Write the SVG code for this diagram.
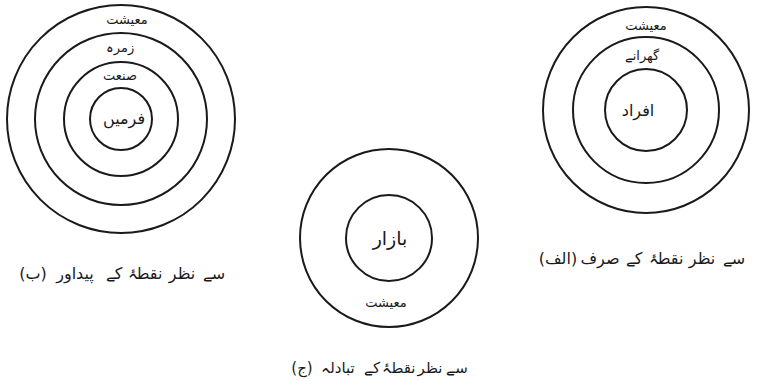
<svg xmlns="http://www.w3.org/2000/svg" width="757" height="387" viewBox="0 0 757 387">
<style>
.ring{fill:none;stroke:#1a1a1a;stroke-width:2}
.t{font-family:"DejaVu Sans",sans-serif;fill:#1a1a1a;text-anchor:middle}
.s{font-size:13px}
.m{font-size:16px}
.cap{font-size:16px}
</style>
<rect width="757" height="387" fill="#ffffff"/>
<g id="connectors"/>
<g id="diagram-b">
  <g id="b-economy"><circle class="ring" cx="121" cy="119" r="114"/><text class="t s" x="127" y="24">معیشت</text></g>
  <g id="b-group"><circle class="ring" cx="121" cy="119" r="86"/><text class="t s" x="120" y="52">زمرہ</text></g>
  <g id="b-industry"><circle class="ring" cx="121" cy="119" r="57"/><text class="t s" x="120" y="80">صنعت</text></g>
  <g id="b-firms"><circle class="ring" cx="121" cy="119" r="31"/><text class="t m" x="124" y="124">فرمیں</text></g>
  <g id="b-caption" class="t cap">
    <text x="33" y="279">(ب)</text>
    <text x="75" y="279">پیداور</text>
    <text x="114" y="279">کے</text>
    <text x="145" y="279">نقطۂ</text>
    <text x="182" y="279">نظر</text>
    <text x="214" y="279">سے</text>
  </g>
</g>
<g id="diagram-c">
  <g id="c-economy"><circle class="ring" cx="389" cy="238" r="89"/><text class="t s" x="386" y="307">معیشت</text></g>
  <g id="c-market"><circle class="ring" cx="389" cy="238" r="43"/><text class="t" style="font-size:19px" x="390" y="245">بازار</text></g>
  <g id="c-caption" class="t" style="font-size:15px">
    <text x="302" y="373">(ج)</text>
    <text x="338" y="373">تبادلہ</text>
    <text x="372" y="373">کے</text>
    <text x="399" y="373">نقطۂ</text>
    <text x="430" y="373">نظر</text>
    <text x="457" y="373">سے</text>
  </g>
</g>
<g id="diagram-a">
  <g id="a-economy"><circle class="ring" cx="646" cy="110" r="103"/><text class="t s" x="646" y="30">معیشت</text></g>
  <g id="a-households"><circle class="ring" cx="646" cy="110" r="73"/><text class="t s" x="642" y="60">گھرانے</text></g>
  <g id="a-individuals"><circle class="ring" cx="646" cy="110" r="41"/><text class="t m" x="638" y="116">افراد</text></g>
  <g id="a-caption" class="t cap">
    <text x="558" y="264">(الف)</text>
    <text x="600" y="264">صرف</text>
    <text x="634" y="264">کے</text>
    <text x="666" y="264">نقطۂ</text>
    <text x="702" y="264">نظر</text>
    <text x="734" y="264">سے</text>
  </g>
</g>
</svg>
